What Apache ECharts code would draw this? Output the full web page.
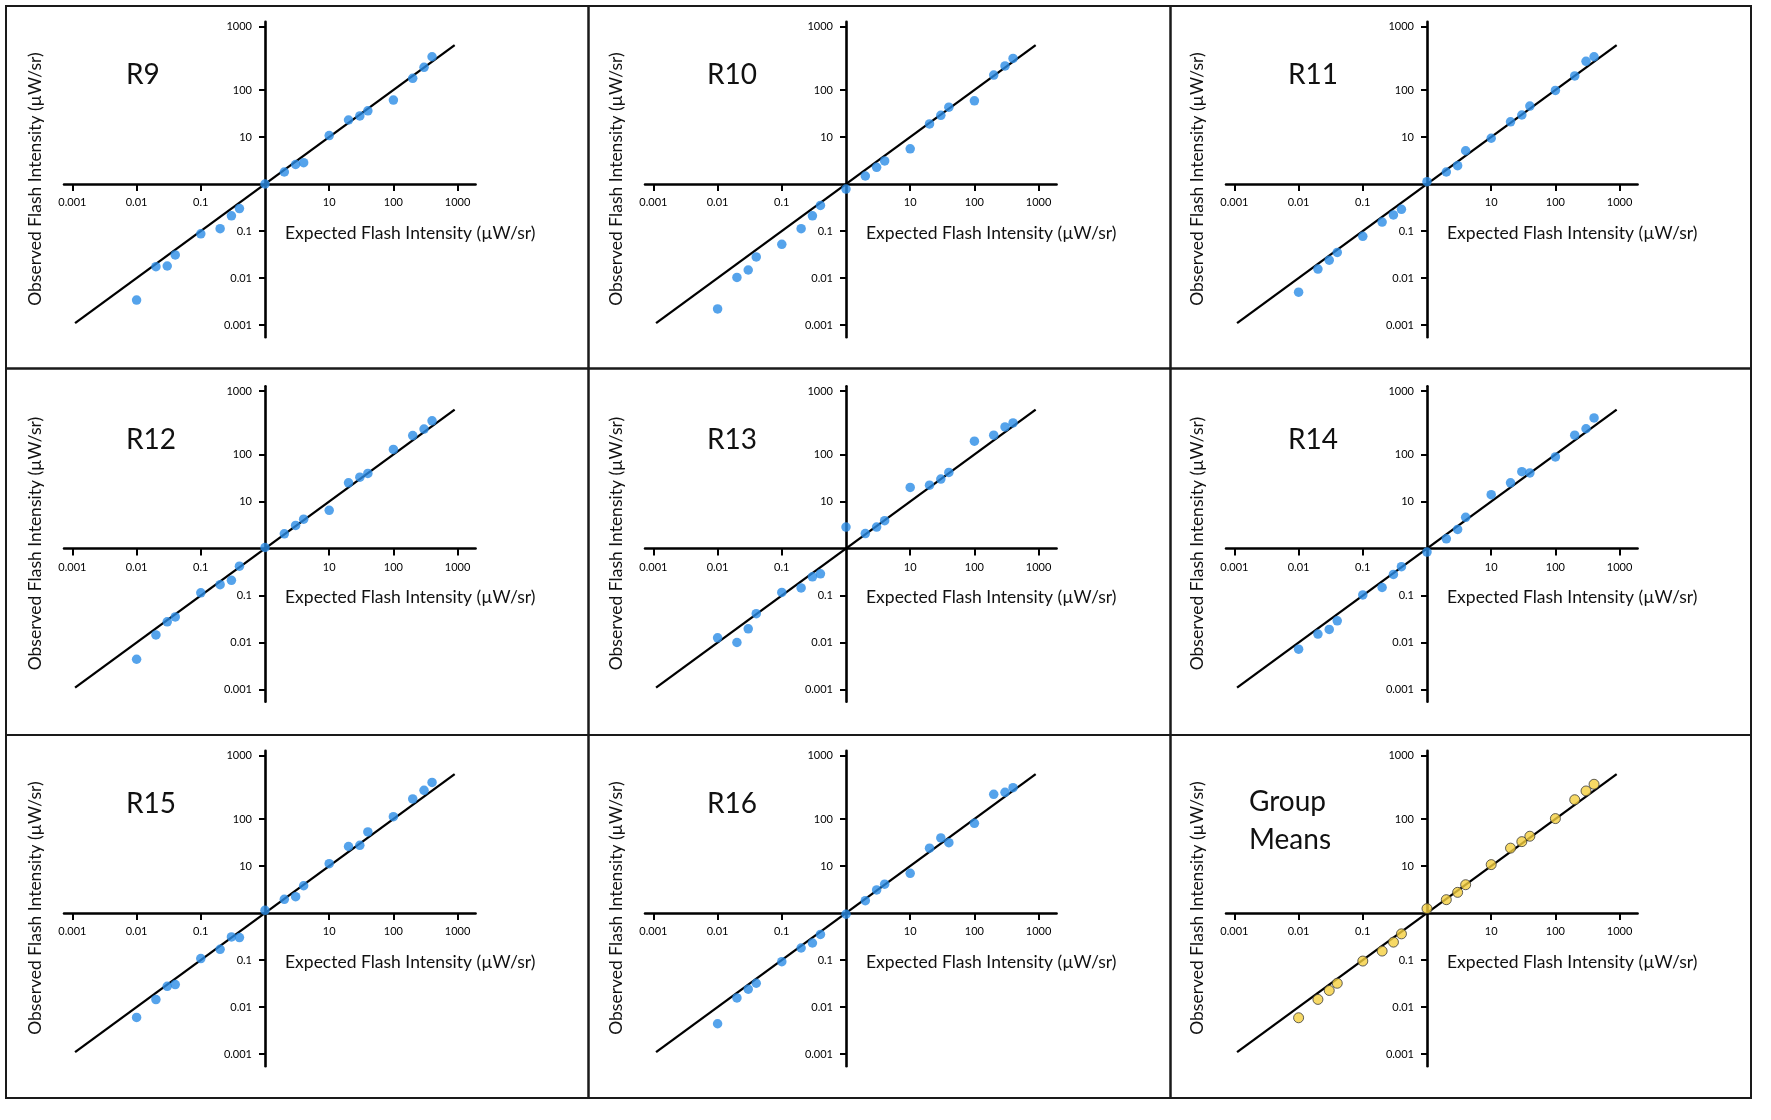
<!DOCTYPE html>
<html>
<head>
<meta charset="utf-8">
<title>Observed vs Expected Flash Intensity</title>
<script src="https://cdn.jsdelivr.net/npm/echarts@6/dist/echarts.min.js"></script>
<style>
html,body{margin:0;padding:0;background:#fff;}
#chart{width:1771px;height:1120px;}
</style>
</head>
<body>
<div id="chart"></div>
<script>
// expected flash intensity of every stimulus (uW/sr), same for all panels
var EXPECTED = [0.01,0.02,0.03,0.04,0.1,0.2,0.3,0.4,1,2,3,4,10,20,30,40,100,200,300,400];

// observed flash intensity per subject (uW/sr)
var R9  = [0.0034,0.0174,0.018,0.031,0.087,0.112,0.21,0.30,1.0,1.8,2.6,2.84,10.7,23,28,36,61,177,303,510];
var R10 = [0.0022,0.0103,0.0148,0.028,0.052,0.112,0.21,0.35,0.78,1.48,2.26,3.1,5.6,19,29,43,59,208,325,470];
var R11 = [0.0050,0.0155,0.024,0.035,0.077,0.155,0.22,0.29,1.12,1.8,2.45,5.1,9.4,21,29.4,45.6,98,199,408,510];
var R12 = [0.0044,0.0145,0.0275,0.035,0.114,0.17,0.21,0.42,1.05,2.05,3.1,4.2,6.5,25,33,39.5,128,253,347,520];
var R13 = [0.0126,0.0100,0.0195,0.041,0.116,0.145,0.25,0.29,2.85,2.08,2.85,3.9,19.9,22.3,30,41.5,192,258,387,470];
var R14 = [0.0072,0.0151,0.019,0.029,0.103,0.148,0.28,0.41,0.84,1.61,2.54,4.6,14,25,43,40.6,89,258,353,600];
var R15 = [0.0060,0.0144,0.0275,0.030,0.107,0.169,0.31,0.30,1.14,1.95,2.23,3.8,11.2,26,27.5,53,112,267,408,600];
var R16 = [0.0044,0.0156,0.024,0.032,0.092,0.18,0.23,0.35,0.94,1.83,3.1,4.1,7.0,24,39.5,31.4,81,335,370,465];
var GROUP_MEANS = [0.0059,0.0145,0.0225,0.032,0.095,0.155,0.24,0.36,1.24,1.92,2.75,4.0,10.7,24,33,43,102,257,395,548];

var PANEL_NAMES = ['R9','R10','R11','R12','R13','R14','R15','R16','Group\nMeans'];
var PANEL_DATA  = [R9,R10,R11,R12,R13,R14,R15,R16,GROUP_MEANS];

// tick labels (uW/sr); the original figure draws its y "1000" tick a bit above the decade
var X_TICK_VALUES = [0.001,0.01,0.1,10,100,1000];
var X_TICK_LABELS = ['0.001','0.01','0.1','10','100','1000'];
var Y_TICK_VALUES = [0.001,0.01,0.1,10,100,2230];
var Y_TICK_LABELS = ['0.001','0.01','0.1','10','100','1000'];

// unity line end points (expected = observed)
var UNITY_LINE = [0.0011, 900];

// ---- layout (px) ----
var COL_EDGES = [6, 588.5, 1170.5, 1751];
var ROW_EDGES = [6, 368.5, 735, 1098];
var ORIGIN_X = [265, 846, 1427];     // where the axes cross (value 1)
var ORIGIN_Y = [184, 548.5, 913];
var DEC_X = 64.2, DEC_Y = 47;        // px per decade
var X_RANGE = [-3.13, 3.28], Y_RANGE = [-3.26, 3.45];  // axis extent in decades

var FONT = 'Lato, "Open Sans", sans-serif';
var BLUE = '#2a8ce6';
var YELLOW = '#f5d03f';

function lg(v){ return Math.log10(v); }
function labeller(vals, labels){
    var logs = vals.map(lg);
    return function(v){
        for(var i=0;i<logs.length;i++){
            if(Math.abs(logs[i]-v)<1e-6) return labels[i];
        }
        return '';
    };
}

var grids=[], xAxes=[], yAxes=[], series=[], graphics=[];

// panel frames
for(var r=0;r<3;r++){
    for(var c=0;c<3;c++){
        graphics.push({
            type:'rect', silent:true,
            shape:{x:COL_EDGES[c], y:ROW_EDGES[r], width:COL_EDGES[c+1]-COL_EDGES[c], height:ROW_EDGES[r+1]-ROW_EDGES[r]},
            style:{fill:'none', stroke:'#1a1a1a', lineWidth:2}
        });
    }
}

for(var i=0;i<9;i++){
    var col=i%3, row=Math.floor(i/3);
    var ox=ORIGIN_X[col], oy=ORIGIN_Y[row];
    var isMean = (i==8);

    grids.push({
        left: ox + X_RANGE[0]*DEC_X,
        top: oy - Y_RANGE[1]*DEC_Y,
        width: (X_RANGE[1]-X_RANGE[0])*DEC_X,
        height: (Y_RANGE[1]-Y_RANGE[0])*DEC_Y,
        outerBoundsMode:'none'
    });

    // axes cross at value 1 (log 0): shift them off the grid edge with a negative offset,
    // so line, ticks and labels all move together
    xAxes.push({
        gridIndex:i, type:'value', min:X_RANGE[0], max:X_RANGE[1],
        position:'bottom', offset: Y_RANGE[0]*DEC_Y,
        axisLine:{onZero:false, lineStyle:{color:'#000', width:2.6}},
        axisTick:{customValues:X_TICK_VALUES.map(lg), length:7, lineStyle:{color:'#000', width:2}},
        axisLabel:{customValues:X_TICK_VALUES.map(lg), formatter:labeller(X_TICK_VALUES,X_TICK_LABELS),
                   margin:13, fontSize:11, color:'#000', fontFamily:FONT},
        splitLine:{show:false}
    });
    yAxes.push({
        gridIndex:i, type:'value', min:Y_RANGE[0], max:Y_RANGE[1],
        position:'left', offset: X_RANGE[0]*DEC_X,
        axisLine:{onZero:false, lineStyle:{color:'#000', width:2.6}},
        axisTick:{customValues:Y_TICK_VALUES.map(lg), length:6, lineStyle:{color:'#000', width:2}},
        axisLabel:{customValues:Y_TICK_VALUES.map(lg), formatter:labeller(Y_TICK_VALUES,Y_TICK_LABELS),
                   margin:13, fontSize:11, color:'#000', fontFamily:FONT},
        splitLine:{show:false}
    });

    series.push({
        type:'line', xAxisIndex:i, yAxisIndex:i, silent:true,
        data:[[lg(UNITY_LINE[0]),lg(UNITY_LINE[0])],[lg(UNITY_LINE[1]),lg(UNITY_LINE[1])]],
        showSymbol:false, lineStyle:{color:'#000', width:2.3}, z:2
    });
    var vals=PANEL_DATA[i];
    series.push({
        type:'scatter', xAxisIndex:i, yAxisIndex:i,
        data:EXPECTED.map(function(x,k){ return [lg(x), lg(vals[k])]; }),
        symbolSize: isMean ? 10 : 9.5,
        itemStyle: isMean ? {color:YELLOW, borderColor:'#3a3a3a', borderWidth:1} : {color:BLUE},
        z:3
    });

    // panel name
    graphics.push({
        type:'text', silent:true,
        x: isMean ? ox-178 : ox-139,
        y: isMean ? oy-92 : oy-109,
        style:{text:PANEL_NAMES[i], font:'28px '+FONT, fill:'#111', lineHeight:38,
               align:'left', verticalAlign:'middle', textAlign:'left', textVerticalAlign:'middle'}
    });
    // x-axis title
    graphics.push({
        type:'text', silent:true, x:ox+20, y:oy+49,
        style:{text:'Expected Flash Intensity (\u00b5W/sr)', font:'17.5px '+FONT, fill:'#111',
               align:'left', verticalAlign:'middle', textAlign:'left', textVerticalAlign:'middle'}
    });
    // y-axis title
    graphics.push({
        type:'text', silent:true, x:ox-230, y:oy-5, rotation:Math.PI/2,
        style:{text:'Observed Flash Intensity (\u00b5W/sr)', font:'17.5px '+FONT, fill:'#111',
               align:'center', verticalAlign:'middle', textAlign:'center', textVerticalAlign:'middle'}
    });
}

var chart = echarts.init(document.getElementById('chart'));
chart.setOption({
    backgroundColor:'#fff',
    animation:false,
    grid:grids,
    xAxis:xAxes,
    yAxis:yAxes,
    series:series,
    graphic:{elements:graphics}
});
</script>
</body>
</html>
